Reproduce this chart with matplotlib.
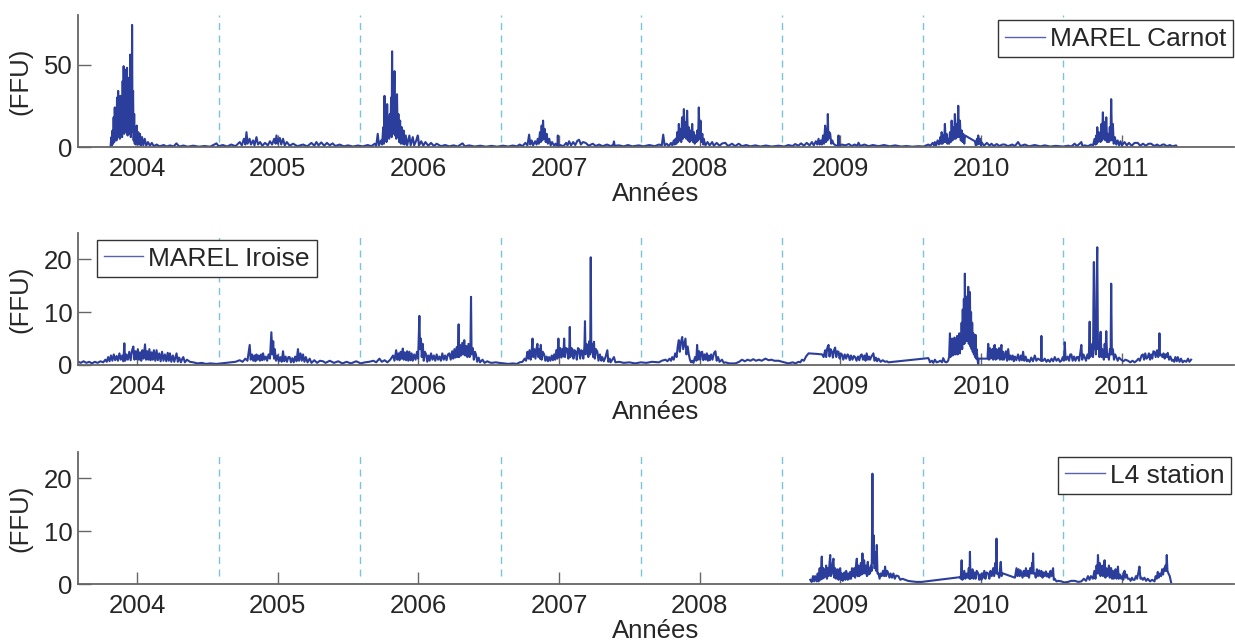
import matplotlib.pyplot as plt
import numpy as np

plt.rcParams['font.family'] = ['Liberation Sans', 'DejaVu Sans']

# fluorescence series (decimal year, FFU)
carnot = [
    (2003.812, 0.5), (2003.818, 6), (2003.822, 1), (2003.826, 10), (2003.830, 2), (2003.834, 18),
    (2003.838, 3), (2003.842, 24), (2003.846, 5), (2003.850, 20), (2003.854, 4), (2003.858, 30),
    (2003.862, 6), (2003.866, 34), (2003.870, 8), (2003.874, 26), (2003.878, 5), (2003.882, 31),
    (2003.886, 9), (2003.890, 30), (2003.894, 6), (2003.898, 40), (2003.902, 10), (2003.905, 49),
    (2003.909, 8), (2003.913, 47), (2003.917, 12), (2003.921, 38), (2003.925, 9), (2003.929, 48),
    (2003.933, 7), (2003.937, 34), (2003.941, 10), (2003.945, 42), (2003.949, 8), (2003.952, 56),
    (2003.956, 6), (2003.960, 40), (2003.963, 9), (2003.965, 74), (2003.968, 10), (2003.972, 34),
    (2003.976, 4), (2003.980, 20), (2003.984, 2), (2003.988, 12), (2003.992, 1.5), (2003.998, 13),
    (2004.003, 2), (2004.009, 9), (2004.015, 1.5), (2004.021, 8), (2004.028, 1), (2004.036, 6),
    (2004.045, 1), (2004.055, 5), (2004.066, 0.8), (2004.078, 3), (2004.092, 0.8), (2004.105, 2.5),
    (2004.12, 0.5), (2004.14, 1.5), (2004.16, 0.4), (2004.19, 1.2), (2004.21, 0.3), (2004.235, 1.0),
    (2004.26, 0.3), (2004.28, 2.2), (2004.30, 0.3), (2004.33, 0.9), (2004.36, 0.2), (2004.40, 0.8),
    (2004.44, 0.2), (2004.48, 0.6), (2004.52, 0.2), (2004.55, 1.5), (2004.565, 2.2), (2004.58, 0.5),
    (2004.61, 1.2), (2004.64, 0.3), (2004.67, 1.5), (2004.70, 0.5), (2004.73, 3), (2004.745, 1),
    (2004.76, 5), (2004.77, 1.5), (2004.778, 9), (2004.786, 2), (2004.80, 5), (2004.81, 1.5),
    (2004.825, 4), (2004.835, 1), (2004.849, 6), (2004.86, 1.5), (2004.875, 3), (2004.89, 0.8),
    (2004.91, 2.5), (2004.93, 1), (2004.945, 3.5), (2004.96, 1.5), (2004.975, 5), (2004.985, 2),
    (2004.991, 7), (2005.00, 2), (2005.015, 5.5), (2005.025, 1.5), (2005.038, 5), (2005.05, 1),
    (2005.065, 3), (2005.085, 0.8), (2005.11, 2), (2005.14, 0.5), (2005.18, 1.5), (2005.21, 0.4),
    (2005.24, 2.5), (2005.26, 0.8), (2005.275, 3), (2005.29, 1), (2005.31, 2.8), (2005.33, 0.8),
    (2005.35, 2.5), (2005.37, 1), (2005.39, 2.2), (2005.41, 0.6), (2005.44, 1.5), (2005.47, 0.4),
    (2005.50, 1), (2005.535, 0.3), (2005.57, 0.9), (2005.605, 0.4), (2005.64, 1.2), (2005.665, 0.5),
    (2005.69, 2), (2005.70, 0.5), (2005.711, 8), (2005.72, 1), (2005.735, 4), (2005.742, 1.5),
    (2005.750, 12), (2005.755, 2), (2005.759, 31), (2005.764, 4), (2005.768, 22), (2005.773, 3),
    (2005.778, 26), (2005.783, 6), (2005.788, 18), (2005.792, 5), (2005.797, 20), (2005.801, 8),
    (2005.806, 30), (2005.810, 6), (2005.813, 58), (2005.816, 10), (2005.820, 36), (2005.824, 8),
    (2005.830, 46), (2005.834, 7), (2005.839, 28), (2005.843, 5), (2005.848, 32), (2005.853, 6),
    (2005.858, 20), (2005.863, 3), (2005.870, 16), (2005.875, 2), (2005.882, 12), (2005.888, 2),
    (2005.895, 10), (2005.901, 1.5), (2005.91, 7), (2005.92, 1), (2005.936, 7), (2005.945, 1),
    (2005.96, 6), (2005.97, 1), (2005.985, 4), (2005.995, 7), (2006.005, 1), (2006.02, 3.5),
    (2006.035, 0.8), (2006.05, 3), (2006.07, 0.8), (2006.09, 2.5), (2006.11, 0.6), (2006.13, 2),
    (2006.16, 0.5), (2006.19, 1.2), (2006.22, 0.4), (2006.25, 1.0), (2006.28, 0.3), (2006.30, 1.5),
    (2006.314, 2.2), (2006.33, 0.4), (2006.36, 1.0), (2006.40, 0.3), (2006.44, 0.8), (2006.48, 0.2),
    (2006.52, 0.7), (2006.56, 0.2), (2006.60, 0.8), (2006.64, 0.3), (2006.67, 0.9), (2006.70, 0.4),
    (2006.72, 1.5), (2006.74, 0.5), (2006.76, 2.5), (2006.775, 1), (2006.787, 7.5), (2006.795, 1.5),
    (2006.805, 4), (2006.815, 1), (2006.83, 3.5), (2006.84, 1.5), (2006.848, 5), (2006.856, 2),
    (2006.864, 9), (2006.870, 3), (2006.876, 13), (2006.881, 4), (2006.886, 16), (2006.892, 5),
    (2006.898, 11), (2006.905, 3), (2006.912, 8), (2006.92, 2), (2006.93, 5), (2006.94, 1),
    (2006.95, 3), (2006.965, 0.8), (2006.975, 2), (2006.988, 0.5), (2006.991, 7), (2006.994, 0.5),
    (2007.01, 1.2), (2007.03, 0.4), (2007.05, 2.5), (2007.06, 1), (2007.071, 3.5), (2007.085, 1),
    (2007.10, 3), (2007.115, 1.2), (2007.13, 3.8), (2007.142, 4.4), (2007.155, 1.5), (2007.17, 3),
    (2007.189, 2.5), (2007.21, 0.8), (2007.24, 2), (2007.26, 0.6), (2007.284, 1.5), (2007.31, 0.5),
    (2007.34, 1.5), (2007.37, 0.5), (2007.385, 1.5), (2007.390, 3.4), (2007.395, 0.8), (2007.426, 1),
    (2007.46, 0.4), (2007.49, 1.2), (2007.52, 0.4), (2007.567, 1), (2007.60, 0.4), (2007.64, 1.2),
    (2007.68, 0.5), (2007.71, 1.5), (2007.73, 1), (2007.740, 7.5), (2007.75, 1), (2007.765, 2),
    (2007.78, 0.5), (2007.795, 2.5), (2007.805, 1), (2007.815, 4), (2007.822, 1.5), (2007.828, 5),
    (2007.834, 2), (2007.840, 9), (2007.846, 3), (2007.851, 14), (2007.857, 4), (2007.863, 11),
    (2007.868, 3), (2007.874, 18), (2007.880, 5), (2007.887, 23), (2007.892, 6), (2007.898, 15),
    (2007.904, 5), (2007.910, 22), (2007.916, 4), (2007.922, 12), (2007.928, 3), (2007.934, 10),
    (2007.940, 4), (2007.946, 14), (2007.952, 3), (2007.958, 9), (2007.964, 2), (2007.969, 7),
    (2007.976, 3), (2007.982, 10), (2007.988, 4), (2007.993, 24), (2007.999, 5), (2008.005, 16),
    (2008.011, 3), (2008.018, 8), (2008.024, 1.5), (2008.028, 5), (2008.04, 1), (2008.055, 3),
    (2008.07, 1), (2008.088, 3), (2008.10, 0.8), (2008.12, 2.5), (2008.14, 0.8), (2008.16, 2.2),
    (2008.182, 2.5), (2008.20, 0.6), (2008.23, 2), (2008.25, 0.5), (2008.277, 2), (2008.30, 0.5),
    (2008.33, 1.2), (2008.36, 0.4), (2008.395, 1), (2008.43, 0.3), (2008.47, 0.9), (2008.51, 0.3),
    (2008.56, 0.8), (2008.60, 0.3), (2008.63, 1.2), (2008.66, 0.6), (2008.678, 1.8), (2008.70, 0.8),
    (2008.72, 2.2), (2008.74, 0.8), (2008.76, 2.5), (2008.78, 1), (2008.797, 3), (2008.81, 1),
    (2008.825, 3.5), (2008.835, 1.5), (2008.844, 5), (2008.852, 1.5), (2008.86, 4), (2008.868, 1.5),
    (2008.876, 7), (2008.883, 2), (2008.891, 13), (2008.897, 3), (2008.903, 11), (2008.907, 4),
    (2008.910, 20), (2008.914, 5), (2008.920, 9), (2008.927, 8), (2008.934, 2), (2008.942, 4),
    (2008.950, 2), (2008.965, 1), (2008.984, 0.8), (2008.986, 7), (2008.988, 0.8), (2009.01, 1.5),
    (2009.033, 1), (2009.06, 1.8), (2009.08, 0.6), (2009.10, 1.5), (2009.12, 0.8), (2009.128, 2.6),
    (2009.14, 0.6), (2009.17, 1.5), (2009.20, 0.5), (2009.23, 1.2), (2009.27, 0.5), (2009.31, 1.2),
    (2009.35, 0.4), (2009.388, 1), (2009.43, 0.3), (2009.47, 0.6), (2009.51, 0.2), (2009.553, 0.5),
    (2009.59, 0.3), (2009.61, 1), (2009.624, 1.5), (2009.64, 0.8), (2009.655, 2.5), (2009.665, 1),
    (2009.671, 3), (2009.68, 1), (2009.69, 4), (2009.70, 1.5), (2009.71, 6), (2009.715, 2),
    (2009.719, 9), (2009.725, 2), (2009.732, 7), (2009.737, 3), (2009.742, 14), (2009.748, 3),
    (2009.754, 8), (2009.760, 2), (2009.766, 5), (2009.772, 2), (2009.778, 9), (2009.784, 3),
    (2009.790, 16), (2009.796, 4), (2009.802, 12), (2009.808, 5), (2009.813, 20), (2009.819, 5),
    (2009.825, 14), (2009.831, 6), (2009.837, 25), (2009.843, 6), (2009.849, 16), (2009.855, 4),
    (2009.862, 10), (2009.868, 3), (2009.872, 8), (2009.880, 2), (2009.885, 7), (2009.955, 3.5),
    (2009.962, 1), (2009.970, 5), (2009.975, 1.5), (2009.979, 7), (2009.985, 2), (2009.992, 5),
    (2009.998, 1), (2010.002, 3), (2010.02, 0.8), (2010.04, 2.5), (2010.06, 0.8), (2010.073, 2),
    (2010.09, 0.6), (2010.11, 1.8), (2010.13, 0.6), (2010.15, 1.5), (2010.168, 1.5), (2010.19, 0.5),
    (2010.22, 1.5), (2010.24, 0.6), (2010.262, 3), (2010.28, 0.6), (2010.31, 1.5), (2010.34, 0.4),
    (2010.38, 1.2), (2010.42, 0.4), (2010.452, 1), (2010.49, 0.3), (2010.53, 0.7), (2010.582, 0.3),
    (2010.62, 0.8), (2010.64, 0.3), (2010.664, 2), (2010.68, 0.6), (2010.70, 2), (2010.712, 3),
    (2010.72, 0.5), (2010.735, 1), (2010.76, 0.5), (2010.78, 1.5), (2010.795, 1), (2010.806, 5),
    (2010.812, 1.5), (2010.818, 7), (2010.822, 2), (2010.825, 12), (2010.830, 3), (2010.836, 9),
    (2010.842, 8), (2010.848, 3), (2010.854, 14), (2010.859, 4), (2010.865, 21), (2010.871, 5),
    (2010.877, 15), (2010.883, 4), (2010.889, 18), (2010.895, 3), (2010.901, 8), (2010.908, 3),
    (2010.914, 12), (2010.919, 4), (2010.924, 29), (2010.930, 4), (2010.936, 14), (2010.942, 2),
    (2010.950, 6), (2010.960, 1.5), (2010.97, 4), (2010.98, 1), (2010.99, 3.5), (2011.00, 1),
    (2011.019, 3), (2011.035, 1), (2011.05, 2.5), (2011.07, 0.8), (2011.09, 2.5), (2011.113, 2.5),
    (2011.13, 0.8), (2011.15, 2), (2011.17, 0.8), (2011.19, 2), (2011.208, 2), (2011.23, 0.6),
    (2011.25, 1.5), (2011.27, 0.5), (2011.29, 1.5), (2011.302, 1.5), (2011.32, 0.4), (2011.34, 1.2),
    (2011.36, 0.4), (2011.385, 1), (2011.39, 0.3),
]

iroise = [
    (2003.584, 0.6), (2003.60, 0.4), (2003.62, 0.7), (2003.64, 0.4), (2003.66, 0.6), (2003.68, 0.3),
    (2003.70, 0.6), (2003.72, 0.4), (2003.74, 0.7), (2003.76, 0.5), (2003.775, 1.0), (2003.785, 0.6),
    (2003.795, 1.5), (2003.805, 0.7), (2003.815, 1.8), (2003.825, 0.8), (2003.835, 2.0), (2003.845, 0.9),
    (2003.855, 1.7), (2003.865, 0.8), (2003.875, 2.2), (2003.885, 1.0), (2003.895, 1.8), (2003.903, 0.7),
    (2003.910, 4.1), (2003.916, 0.8), (2003.925, 2.0), (2003.935, 1.0), (2003.945, 2.5), (2003.955, 0.9),
    (2003.965, 2.8), (2003.974, 3.5), (2003.982, 1.0), (2003.990, 2.6), (2003.998, 1.1), (2004.006, 3.0),
    (2004.014, 1.0), (2004.022, 2.4), (2004.030, 0.8), (2004.038, 2.8), (2004.046, 1.2), (2004.057, 3.9),
    (2004.064, 1.0), (2004.072, 2.6), (2004.080, 1.0), (2004.088, 3.0), (2004.096, 0.9), (2004.104, 2.4),
    (2004.112, 1.0), (2004.120, 2.8), (2004.130, 0.8), (2004.139, 2.8), (2004.148, 0.9), (2004.158, 2.2),
    (2004.168, 0.7), (2004.178, 2.5), (2004.188, 0.8), (2004.198, 2.0), (2004.208, 0.7), (2004.218, 2.3),
    (2004.226, 0.8), (2004.234, 2.2), (2004.244, 0.6), (2004.255, 1.8), (2004.265, 0.6), (2004.275, 1.6),
    (2004.281, 2.2), (2004.290, 0.6), (2004.300, 1.4), (2004.312, 0.5), (2004.322, 1.2), (2004.329, 1.5),
    (2004.340, 0.5), (2004.355, 1.0), (2004.376, 0.6), (2004.40, 0.5), (2004.43, 0.3), (2004.46, 0.4),
    (2004.49, 0.2), (2004.52, 0.3), (2004.565, 0.2), (2004.60, 0.3), (2004.636, 0.4), (2004.67, 0.5),
    (2004.70, 0.6), (2004.73, 0.9), (2004.75, 0.6), (2004.77, 1.2), (2004.785, 0.8), (2004.801, 3.8),
    (2004.808, 1.0), (2004.818, 2.0), (2004.826, 0.8), (2004.835, 1.8), (2004.842, 0.7), (2004.849, 2.0),
    (2004.858, 1.0), (2004.866, 1.8), (2004.874, 0.8), (2004.882, 2.0), (2004.890, 0.9), (2004.896, 2.2),
    (2004.905, 1.0), (2004.915, 1.6), (2004.925, 0.8), (2004.935, 2.0), (2004.945, 1.2), (2004.955, 6.2),
    (2004.962, 2.0), (2004.968, 4.5), (2004.974, 1.2), (2004.979, 3.0), (2004.988, 0.8), (2004.998, 1.8),
    (2005.008, 0.7), (2005.018, 1.5), (2005.028, 0.6), (2005.038, 2.6), (2005.046, 0.7), (2005.056, 1.6),
    (2005.066, 0.6), (2005.076, 1.5), (2005.085, 1.5), (2005.094, 0.5), (2005.104, 1.3), (2005.114, 0.5),
    (2005.124, 1.6), (2005.134, 0.7), (2005.144, 3.0), (2005.152, 0.8), (2005.162, 2.2), (2005.171, 0.8),
    (2005.180, 2.0), (2005.190, 0.6), (2005.200, 1.5), (2005.212, 0.5), (2005.227, 1.2), (2005.24, 0.4),
    (2005.26, 0.9), (2005.28, 0.4), (2005.30, 0.8), (2005.322, 0.7), (2005.34, 0.4), (2005.37, 0.8),
    (2005.40, 0.4), (2005.43, 0.7), (2005.46, 0.3), (2005.49, 0.6), (2005.52, 0.3), (2005.558, 0.7),
    (2005.59, 0.3), (2005.62, 0.5), (2005.65, 0.6), (2005.68, 0.8), (2005.70, 0.5), (2005.723, 1.2),
    (2005.74, 0.6), (2005.76, 0.9), (2005.78, 0.5), (2005.80, 1.0), (2005.82, 1.8), (2005.83, 0.8),
    (2005.842, 2.8), (2005.850, 1.0), (2005.858, 2.2), (2005.866, 0.9), (2005.874, 2.5), (2005.882, 1.2),
    (2005.889, 3.1), (2005.896, 1.0), (2005.904, 2.4), (2005.912, 0.9), (2005.920, 2.6), (2005.928, 0.8),
    (2005.936, 2.5), (2005.944, 0.9), (2005.952, 2.2), (2005.960, 0.8), (2005.970, 2.0), (2005.980, 1.0),
    (2005.990, 2.5), (2005.998, 1.2), (2006.003, 6.0), (2006.007, 9.3), (2006.012, 3.0), (2006.018, 5.0),
    (2006.024, 1.5), (2006.031, 4.0), (2006.038, 0.8), (2006.046, 2.5), (2006.055, 2.0), (2006.063, 0.6),
    (2006.072, 1.8), (2006.080, 0.8), (2006.090, 2.2), (2006.100, 1.0), (2006.110, 1.8), (2006.120, 0.8),
    (2006.130, 2.0), (2006.140, 1.0), (2006.150, 1.6), (2006.160, 0.8), (2006.170, 2.2), (2006.180, 1.0),
    (2006.190, 1.8), (2006.200, 0.9), (2006.210, 2.0), (2006.220, 2.2), (2006.230, 1.0), (2006.240, 2.6),
    (2006.248, 1.2), (2006.256, 3.0), (2006.264, 1.4), (2006.272, 3.4), (2006.280, 1.5), (2006.286, 7.7),
    (2006.290, 1.5), (2006.296, 3.8), (2006.304, 1.8), (2006.312, 4.2), (2006.320, 2.0), (2006.326, 4.7),
    (2006.332, 1.8), (2006.340, 3.6), (2006.348, 1.5), (2006.356, 4.0), (2006.364, 1.5), (2006.370, 3.5),
    (2006.374, 12.9), (2006.378, 2.0), (2006.386, 3.2), (2006.394, 1.0), (2006.402, 2.5), (2006.409, 2.0),
    (2006.418, 0.6), (2006.428, 1.4), (2006.438, 0.5), (2006.456, 1.0), (2006.47, 0.4), (2006.49, 0.7),
    (2006.504, 0.5), (2006.52, 0.4), (2006.55, 0.5), (2006.575, 0.4), (2006.61, 0.3), (2006.64, 0.2),
    (2006.67, 0.3), (2006.70, 0.2), (2006.72, 0.5), (2006.74, 0.6), (2006.755, 1.2), (2006.765, 0.8),
    (2006.775, 2.5), (2006.782, 1.2), (2006.790, 2.8), (2006.798, 1.0), (2006.805, 2.5), (2006.811, 5.0),
    (2006.816, 1.5), (2006.824, 3.0), (2006.832, 1.2), (2006.840, 3.2), (2006.846, 4.0), (2006.852, 1.5),
    (2006.858, 3.0), (2006.864, 1.2), (2006.870, 3.8), (2006.876, 1.0), (2006.884, 2.5), (2006.894, 2.0),
    (2006.902, 0.8), (2006.912, 1.6), (2006.920, 0.7), (2006.929, 1.5), (2006.938, 0.8), (2006.948, 1.8),
    (2006.956, 0.9), (2006.965, 2.0), (2006.972, 1.0), (2006.980, 2.8), (2006.988, 1.2), (2006.995, 5.0),
    (2007.001, 1.5), (2007.008, 3.2), (2007.016, 1.4), (2007.024, 3.0), (2007.030, 1.6), (2007.036, 5.0),
    (2007.042, 1.5), (2007.050, 3.2), (2007.059, 3.0), (2007.066, 1.2), (2007.072, 2.6), (2007.076, 7.2),
    (2007.080, 1.5), (2007.088, 3.2), (2007.095, 3.0), (2007.102, 1.2), (2007.110, 2.8), (2007.118, 2.5),
    (2007.126, 1.0), (2007.134, 3.2), (2007.142, 3.0), (2007.150, 1.2), (2007.158, 2.8), (2007.165, 2.5),
    (2007.172, 1.2), (2007.180, 3.5), (2007.184, 8.3), (2007.188, 2.0), (2007.195, 4.0), (2007.201, 3.0),
    (2007.208, 1.5), (2007.215, 4.5), (2007.221, 2.0), (2007.225, 20.4), (2007.229, 2.5), (2007.236, 4.0),
    (2007.242, 1.5), (2007.248, 4.4), (2007.254, 1.2), (2007.262, 3.0), (2007.272, 2.5), (2007.280, 0.8),
    (2007.290, 2.0), (2007.300, 0.8), (2007.307, 1.5), (2007.318, 0.7), (2007.330, 1.5), (2007.343, 2.8),
    (2007.350, 0.6), (2007.360, 1.2), (2007.366, 0.5), (2007.378, 1.0), (2007.390, 1.5), (2007.40, 0.5),
    (2007.426, 0.6), (2007.46, 0.4), (2007.50, 0.5), (2007.54, 0.3), (2007.58, 0.5), (2007.62, 0.4),
    (2007.66, 0.6), (2007.709, 0.5), (2007.73, 0.8), (2007.756, 1.0), (2007.770, 0.7), (2007.785, 1.2),
    (2007.796, 0.8), (2007.804, 1.5), (2007.815, 1.0), (2007.825, 2.2), (2007.835, 1.5), (2007.843, 3.5),
    (2007.851, 4.7), (2007.858, 2.5), (2007.865, 4.2), (2007.875, 5.3), (2007.882, 3.0), (2007.890, 4.0),
    (2007.898, 5.0), (2007.905, 2.0), (2007.914, 3.5), (2007.922, 2.0), (2007.930, 1.0), (2007.938, 0.5),
    (2007.946, 0.8), (2007.955, 0.4), (2007.966, 1.5), (2007.975, 0.8), (2007.981, 3.8), (2007.987, 1.0),
    (2007.995, 2.6), (2008.003, 1.0), (2008.010, 2.4), (2008.017, 2.5), (2008.025, 0.9), (2008.034, 2.0),
    (2008.042, 1.0), (2008.050, 2.2), (2008.058, 0.8), (2008.064, 1.8), (2008.072, 0.9), (2008.080, 2.0),
    (2008.090, 1.0), (2008.100, 2.2), (2008.111, 2.6), (2008.120, 0.8), (2008.130, 1.5), (2008.140, 0.6),
    (2008.158, 1.0), (2008.170, 0.4), (2008.182, 0.5), (2008.21, 0.3), (2008.253, 0.3), (2008.28, 0.6),
    (2008.300, 1.0), (2008.32, 0.7), (2008.34, 1.0), (2008.36, 0.8), (2008.38, 1.1), (2008.40, 0.8),
    (2008.42, 1.0), (2008.44, 0.8), (2008.466, 1.2), (2008.49, 0.9), (2008.51, 1.0), (2008.53, 0.8),
    (2008.560, 0.8), (2008.60, 0.5), (2008.631, 0.3), (2008.66, 0.5), (2008.68, 0.3), (2008.702, 0.6),
    (2008.715, 0.5), (2008.726, 1.0), (2008.74, 0.8), (2008.755, 1.6), (2008.773, 2.2), (2008.83, 2.1),
    (2008.87, 2.0), (2008.880, 1.5), (2008.891, 2.8), (2008.898, 1.5), (2008.906, 3.2), (2008.915, 3.8),
    (2008.922, 1.6), (2008.930, 3.0), (2008.939, 2.5), (2008.946, 1.4), (2008.954, 2.8), (2008.962, 3.3),
    (2008.970, 1.5), (2008.978, 2.6), (2008.986, 2.5), (2008.994, 1.2), (2009.002, 2.2), (2009.010, 2.0),
    (2009.020, 1.0), (2009.030, 2.0), (2009.040, 1.2), (2009.050, 2.0), (2009.057, 1.8), (2009.066, 0.9),
    (2009.075, 1.8), (2009.085, 1.0), (2009.095, 1.7), (2009.104, 1.5), (2009.114, 0.8), (2009.124, 1.6),
    (2009.134, 0.9), (2009.142, 1.8), (2009.151, 2.0), (2009.160, 1.0), (2009.170, 1.8), (2009.178, 0.8),
    (2009.186, 2.2), (2009.195, 1.0), (2009.203, 1.6), (2009.210, 1.0), (2009.220, 1.6), (2009.234, 2.2),
    (2009.242, 0.8), (2009.252, 1.4), (2009.260, 0.7), (2009.270, 1.2), (2009.285, 0.6), (2009.300, 0.9),
    (2009.317, 0.6), (2009.330, 0.7), (2009.340, 0.5), (2009.624, 1.3), (2009.630, 1.0), (2009.636, 0.5),
    (2009.650, 0.8), (2009.660, 0.4), (2009.671, 1.0), (2009.683, 0.5), (2009.695, 0.6), (2009.710, 0.8),
    (2009.722, 0.5), (2009.730, 1.3), (2009.742, 0.6), (2009.754, 0.5), (2009.765, 0.8), (2009.772, 1.5),
    (2009.778, 6.0), (2009.782, 1.5), (2009.786, 4.5), (2009.790, 2.0), (2009.794, 5.0), (2009.798, 1.8),
    (2009.802, 4.8), (2009.806, 2.0), (2009.810, 5.2), (2009.813, 5.0), (2009.817, 2.0), (2009.821, 4.6),
    (2009.825, 2.2), (2009.829, 5.5), (2009.833, 2.0), (2009.837, 4.0), (2009.841, 2.5), (2009.845, 6.0),
    (2009.849, 2.2), (2009.853, 5.5), (2009.857, 3.0), (2009.861, 8.0), (2009.865, 3.0), (2009.869, 10.5),
    (2009.873, 4.0), (2009.877, 12.5), (2009.881, 4.0), (2009.884, 17.3), (2009.888, 5.0), (2009.892, 11.0),
    (2009.896, 4.5), (2009.900, 13.0), (2009.904, 5.0), (2009.908, 14.8), (2009.912, 4.0), (2009.916, 12.0),
    (2009.920, 13.8), (2009.924, 3.5), (2009.928, 10.0), (2009.932, 3.0), (2009.936, 8.0), (2009.940, 2.5),
    (2009.944, 6.0), (2009.948, 2.0), (2009.952, 5.0), (2009.956, 1.5), (2009.960, 5.7), (2009.964, 1.2),
    (2009.968, 3.0), (2009.974, 1.0), (2009.979, 0.1), (2009.982, 1.2), (2010.045, 1.2), (2010.050, 4.0),
    (2010.055, 1.0), (2010.061, 3.2), (2010.067, 1.2), (2010.073, 1.5), (2010.079, 3.0), (2010.085, 1.0),
    (2010.091, 3.6), (2010.097, 3.8), (2010.103, 1.0), (2010.109, 3.0), (2010.115, 1.2), (2010.121, 1.5),
    (2010.127, 3.2), (2010.133, 1.0), (2010.139, 2.8), (2010.144, 3.8), (2010.150, 1.0), (2010.156, 2.5),
    (2010.162, 1.0), (2010.168, 1.5), (2010.176, 2.6), (2010.184, 0.8), (2010.192, 3.0), (2010.200, 1.0),
    (2010.208, 1.8), (2010.215, 1.0), (2010.224, 1.8), (2010.232, 0.7), (2010.240, 1.6), (2010.250, 0.9),
    (2010.262, 2.0), (2010.272, 0.8), (2010.282, 1.8), (2010.290, 0.9), (2010.298, 2.5), (2010.306, 0.8),
    (2010.316, 1.6), (2010.325, 0.7), (2010.333, 1.0), (2010.345, 0.6), (2010.356, 1.4), (2010.368, 0.7),
    (2010.381, 1.8), (2010.392, 0.8), (2010.404, 1.2), (2010.416, 1.0), (2010.426, 0.8), (2010.428, 5.5),
    (2010.430, 0.8), (2010.440, 0.8), (2010.452, 1.2), (2010.464, 0.6), (2010.475, 1.0), (2010.488, 0.6),
    (2010.500, 1.2), (2010.512, 0.7), (2010.523, 1.5), (2010.535, 0.8), (2010.548, 1.2), (2010.560, 0.6),
    (2010.570, 0.8), (2010.580, 1.5), (2010.588, 0.8), (2010.594, 4.3), (2010.600, 1.0), (2010.605, 1.0),
    (2010.615, 1.6), (2010.625, 0.8), (2010.633, 2.0), (2010.641, 2.0), (2010.650, 0.8), (2010.660, 1.6),
    (2010.670, 0.8), (2010.680, 1.5), (2010.688, 1.5), (2010.696, 0.8), (2010.704, 2.2), (2010.712, 3.8),
    (2010.718, 1.0), (2010.726, 2.0), (2010.735, 1.5), (2010.745, 0.8), (2010.755, 2.0), (2010.765, 1.2),
    (2010.771, 8.2), (2010.775, 1.5), (2010.783, 2.0), (2010.790, 4.0), (2010.795, 1.5), (2010.798, 12.0),
    (2010.801, 19.5), (2010.805, 3.0), (2010.811, 5.0), (2010.815, 2.0), (2010.820, 15.0), (2010.825, 22.3),
    (2010.830, 3.0), (2010.835, 4.0), (2010.840, 1.5), (2010.845, 5.0), (2010.849, 6.3), (2010.855, 1.5),
    (2010.860, 3.0), (2010.865, 2.0), (2010.872, 1.0), (2010.878, 4.0), (2010.883, 1.5), (2010.889, 6.4),
    (2010.895, 1.5), (2010.901, 2.0), (2010.908, 1.0), (2010.915, 3.0), (2010.920, 2.0), (2010.924, 15.4),
    (2010.929, 2.0), (2010.936, 3.0), (2010.944, 1.0), (2010.952, 2.0), (2010.960, 1.5), (2010.970, 0.8),
    (2010.980, 1.4), (2010.995, 1.0), (2011.010, 0.7), (2011.025, 1.0), (2011.043, 0.8), (2011.060, 0.5),
    (2011.075, 0.8), (2011.090, 0.5), (2011.105, 0.8), (2011.118, 1.2), (2011.128, 0.8), (2011.140, 1.8),
    (2011.149, 2.0), (2011.158, 1.0), (2011.166, 2.2), (2011.175, 1.2), (2011.184, 1.5), (2011.192, 2.2),
    (2011.200, 1.0), (2011.208, 2.0), (2011.216, 1.2), (2011.224, 2.6), (2011.232, 2.5), (2011.240, 1.5),
    (2011.250, 2.8), (2011.258, 1.5), (2011.264, 3.0), (2011.267, 6.0), (2011.271, 1.8), (2011.279, 2.0),
    (2011.288, 1.5), (2011.296, 2.2), (2011.304, 1.2), (2011.312, 2.0), (2011.320, 1.5), (2011.326, 2.3),
    (2011.335, 1.0), (2011.345, 1.6), (2011.355, 0.8), (2011.362, 1.0), (2011.372, 0.6), (2011.380, 1.5),
    (2011.390, 0.7), (2011.397, 1.5), (2011.410, 0.6), (2011.420, 1.2), (2011.432, 0.5), (2011.444, 0.8),
    (2011.458, 0.6), (2011.470, 1.2), (2011.480, 0.6), (2011.492, 1.0),
]

l4 = [
    (2008.785, 0.8), (2008.795, 0.4), (2008.805, 1.5), (2008.812, 0.5), (2008.820, 1.5), (2008.830, 0.5),
    (2008.838, 2.0), (2008.844, 0.5), (2008.852, 3.0), (2008.858, 0.8), (2008.864, 4.0), (2008.867, 5.2),
    (2008.872, 1.0), (2008.878, 3.0), (2008.884, 1.2), (2008.891, 1.5), (2008.898, 3.5), (2008.904, 1.0),
    (2008.910, 3.0), (2008.916, 1.5), (2008.922, 4.0), (2008.927, 5.5), (2008.932, 1.5), (2008.939, 2.0),
    (2008.945, 4.0), (2008.950, 4.8), (2008.956, 1.2), (2008.962, 3.0), (2008.968, 1.0), (2008.974, 1.5),
    (2008.980, 2.8), (2008.986, 0.8), (2008.992, 2.5), (2008.998, 3.0), (2009.004, 0.8), (2009.010, 2.0),
    (2009.016, 0.6), (2009.021, 1.0), (2009.028, 2.2), (2009.034, 0.8), (2009.040, 2.5), (2009.045, 2.0),
    (2009.052, 0.8), (2009.058, 2.0), (2009.064, 1.0), (2009.069, 2.3), (2009.075, 1.0), (2009.082, 3.0),
    (2009.087, 1.5), (2009.092, 1.5), (2009.098, 3.0), (2009.104, 1.2), (2009.110, 3.5), (2009.116, 4.8),
    (2009.122, 1.5), (2009.128, 3.5), (2009.134, 1.5), (2009.139, 2.0), (2009.145, 4.0), (2009.150, 1.8),
    (2009.156, 5.8), (2009.162, 2.0), (2009.168, 4.5), (2009.175, 2.0), (2009.182, 3.5), (2009.188, 1.5),
    (2009.194, 4.2), (2009.200, 1.8), (2009.206, 3.0), (2009.210, 2.0), (2009.216, 3.5), (2009.222, 2.5),
    (2009.225, 12.0), (2009.227, 20.9), (2009.230, 6.0), (2009.233, 4.0), (2009.236, 9.2), (2009.240, 3.0),
    (2009.246, 3.0), (2009.250, 6.0), (2009.254, 2.5), (2009.258, 7.4), (2009.263, 2.0), (2009.270, 2.0),
    (2009.278, 1.0), (2009.286, 2.0), (2009.293, 1.5), (2009.302, 2.5), (2009.310, 1.5), (2009.317, 3.3),
    (2009.324, 1.5), (2009.332, 2.5), (2009.340, 2.0), (2009.348, 1.2), (2009.356, 2.0), (2009.366, 1.2),
    (2009.376, 2.0), (2009.386, 1.0), (2009.396, 1.6), (2009.411, 1.5), (2009.425, 0.8), (2009.440, 1.0),
    (2009.459, 0.8), (2009.480, 0.6), (2009.506, 0.5), (2009.540, 0.4), (2009.577, 0.4), (2009.850, 1.3),
    (2009.855, 1.0), (2009.861, 4.5), (2009.866, 0.8), (2009.872, 1.0), (2009.880, 2.5), (2009.888, 1.0),
    (2009.896, 2.0), (2009.904, 1.2), (2009.912, 3.0), (2009.917, 1.0), (2009.920, 6.1), (2009.924, 1.0),
    (2009.931, 1.5), (2009.938, 2.8), (2009.945, 1.0), (2009.952, 2.2), (2009.960, 1.0), (2009.968, 2.5),
    (2009.979, 2.0), (2009.986, 0.8), (2009.994, 1.8), (2010.002, 0.8), (2010.008, 2.0), (2010.014, 1.2),
    (2010.022, 2.5), (2010.030, 1.0), (2010.038, 2.2), (2010.050, 2.0), (2010.058, 1.0), (2010.066, 2.5),
    (2010.075, 1.5), (2010.085, 3.0), (2010.092, 1.5), (2010.100, 4.0), (2010.106, 2.0), (2010.109, 8.6),
    (2010.113, 2.0), (2010.121, 2.0), (2010.128, 1.2), (2010.134, 3.0), (2010.139, 4.2), (2010.145, 1.5),
    (2010.150, 2.0), (2010.156, 2.0), (2010.240, 1.2), (2010.251, 3.0), (2010.258, 1.5), (2010.266, 2.8),
    (2010.274, 1.5), (2010.280, 2.6), (2010.286, 2.0), (2010.294, 1.2), (2010.302, 2.5), (2010.310, 1.5),
    (2010.318, 3.0), (2010.326, 1.5), (2010.333, 2.5), (2010.340, 1.2), (2010.348, 3.0), (2010.356, 2.0),
    (2010.362, 4.0), (2010.366, 2.0), (2010.369, 5.8), (2010.373, 2.0), (2010.381, 2.0), (2010.388, 1.2),
    (2010.396, 2.8), (2010.404, 1.5), (2010.412, 2.6), (2010.420, 1.5), (2010.428, 2.5), (2010.436, 1.2),
    (2010.444, 2.2), (2010.452, 1.5), (2010.460, 2.4), (2010.468, 1.4), (2010.475, 2.0), (2010.484, 1.2),
    (2010.492, 2.5), (2010.500, 1.5), (2010.506, 2.4), (2010.511, 3.0), (2010.516, 0.8), (2010.523, 1.0),
    (2010.535, 0.5), (2010.550, 0.6), (2010.570, 0.5), (2010.590, 0.3), (2010.617, 0.4), (2010.640, 0.6),
    (2010.665, 0.6), (2010.690, 0.4), (2010.712, 0.5), (2010.730, 1.0), (2010.745, 0.6), (2010.759, 1.5),
    (2010.770, 0.8), (2010.780, 1.5), (2010.794, 1.0), (2010.805, 2.5), (2010.812, 1.0), (2010.820, 3.5),
    (2010.826, 2.0), (2010.830, 5.5), (2010.836, 2.0), (2010.842, 4.0), (2010.848, 1.5), (2010.853, 2.0),
    (2010.860, 3.5), (2010.866, 1.5), (2010.872, 3.0), (2010.877, 4.5), (2010.883, 1.2), (2010.890, 3.0),
    (2010.896, 1.5), (2010.901, 2.0), (2010.908, 3.5), (2010.914, 1.2), (2010.920, 3.0), (2010.924, 3.0),
    (2010.930, 1.0), (2010.936, 2.5), (2010.942, 1.0), (2010.948, 1.5), (2010.955, 2.8), (2010.962, 1.0),
    (2010.968, 2.2), (2010.972, 3.3), (2010.978, 1.0), (2010.986, 1.8), (2010.995, 1.0), (2011.003, 1.5),
    (2011.010, 0.8), (2011.019, 2.5), (2011.026, 1.2), (2011.034, 1.8), (2011.042, 1.0), (2011.054, 1.0),
    (2011.062, 0.6), (2011.072, 1.2), (2011.080, 0.8), (2011.090, 0.8), (2011.100, 1.5), (2011.108, 1.0),
    (2011.116, 2.0), (2011.125, 3.3), (2011.132, 1.0), (2011.140, 1.2), (2011.149, 0.8), (2011.160, 1.2),
    (2011.172, 0.6), (2011.184, 1.0), (2011.200, 0.5), (2011.215, 0.8), (2011.232, 0.5), (2011.240, 1.5),
    (2011.248, 1.0), (2011.255, 2.3), (2011.262, 1.2), (2011.270, 2.0), (2011.279, 1.5), (2011.286, 2.8),
    (2011.293, 1.8), (2011.300, 3.0), (2011.305, 2.5), (2011.310, 3.5), (2011.315, 2.5), (2011.319, 5.5),
    (2011.324, 2.5), (2011.331, 2.0), (2011.340, 1.5), (2011.350, 0.3),
]

years = [2004, 2005, 2006, 2007, 2008, 2009, 2010, 2011]
# dashed separators (early August each year)
sep_years = [2004.585, 2005.585, 2006.585, 2007.585, 2008.585, 2009.585, 2010.585]

series_names = ['MAREL Carnot', 'MAREL Iroise', 'L4 station']
y_max = [80, 25, 25]
y_ticks = [[0, 50], [0, 10, 20], [0, 10, 20]]

LINE_C = '#2c3e9c'
DASH_C = '#79c4d6'
TXT_C = '#262626'
FS = 18.5

fig = plt.figure(figsize=(12.35, 6.42), dpi=100)

bottoms = [0.771, 0.4315, 0.0903]
leg_loc = ['upper right', 'upper left', 'upper right']
leg_anchor = [(0.999, 0.96), (0.0164, 0.947), (0.9974, 0.962)]
dash_lo = [3, 1.6, 1.5]

for i, data in enumerate([carnot, iroise, l4]):
    ax = fig.add_axes([0.0632, bottoms[i], 0.936, 0.2056])
    t = np.array([p[0] for p in data])
    v = np.array([p[1] for p in data])

    for s in sep_years:
        ax.plot([s, s], [dash_lo[i], y_max[i]], color=DASH_C, lw=1.0, dashes=(5, 4))
    ax.plot(t, v, color=LINE_C, lw=1.5, label=series_names[i])

    ax.set_xlim(2003.581, 2011.797)
    ax.set_ylim(0, y_max[i])
    ax.set_xticks(years)
    ax.set_xticklabels([str(y) for y in years])
    ax.set_yticks(y_ticks[i])

    for side in ['top', 'right']:
        ax.spines[side].set_visible(False)
    for side in ['left', 'bottom']:
        ax.spines[side].set_color('#666666')
        ax.spines[side].set_linewidth(1.3)
    ax.set_axisbelow(True)
    ax.tick_params(direction='in', length=9, width=1, color='#666666',
                   labelcolor=TXT_C, labelsize=FS)
    ax.tick_params(axis='x', pad=7)
    ax.tick_params(axis='y', pad=4)

    ax.set_xlabel('Années', fontsize=FS, color=TXT_C, labelpad=1)
    ax.set_ylabel('(FFU)', fontsize=FS, color=TXT_C, labelpad=8)

    leg = ax.legend(loc=leg_loc[i], bbox_to_anchor=leg_anchor[i], borderaxespad=0,
                    fontsize=19, handlelength=1.5, handletextpad=0.2, borderpad=0.25,
                    fancybox=False, framealpha=1, edgecolor='#333333')
    leg.get_frame().set_linewidth(1.0)
    leg.get_lines()[0].set_color('#5a60b0')
    leg.get_lines()[0].set_linewidth(1.0)
    for txt in leg.get_texts():
        txt.set_color(TXT_C)

fig.savefig('out.png', dpi=100)
